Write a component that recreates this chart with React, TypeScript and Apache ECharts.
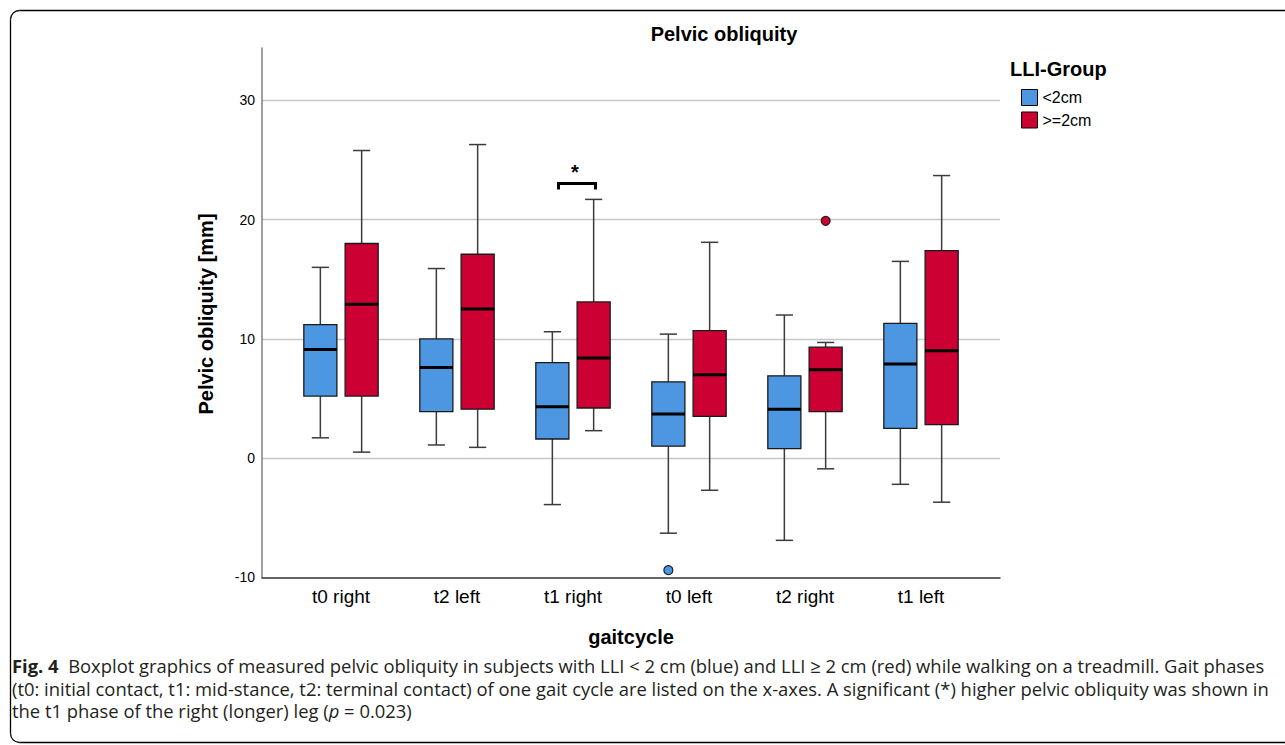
import React, { useEffect, useRef } from "react";
import * as echarts from "echarts";

const categories = ["t0 right", "t2 left", "t1 right", "t0 left", "t2 right", "t1 left"];
// [min, Q1, median, Q3, max]
const lowGroup = [
  [1.7, 5.2, 9.1, 11.2, 16.0],
  [1.1, 3.9, 7.6, 10.0, 15.9],
  [-3.9, 1.6, 4.3, 8.0, 10.6],
  [-6.3, 1.0, 3.7, 6.4, 10.4],
  [-6.9, 0.8, 4.1, 6.9, 12.0],
  [-2.2, 2.5, 7.9, 11.3, 16.5],
];
const highGroup = [
  [0.5, 5.2, 12.9, 18.0, 25.8],
  [0.9, 4.1, 12.5, 17.1, 26.3],
  [2.3, 4.2, 8.4, 13.1, 21.7],
  [-2.7, 3.5, 7.0, 10.7, 18.1],
  [-0.9, 3.9, 7.4, 9.3, 9.7],
  [-3.7, 2.8, 9.0, 17.4, 23.7],
];
// [category index, value]
const lowOutliers = [[3, -9.4]];
const highOutliers = [[4, 19.9]];
const yTicks = [-10, 0, 10, 20, 30];

const BLUE = "#4D97E2";
const RED = "#CC0033";
const FONT = "'Liberation Sans', Arial, sans-serif";
const CAP_FONT = "'Open Sans', 'Noto Sans', sans-serif";
const CAP_SIZE = 18.4;
const CAP_LINE = 22.5;

function boxRenderer(dir: number) {
  return (params: any, api: any) => {
    const cat = api.value(0);
    const band = api.size([1, 0])[0];
    const off = dir * band * 0.178;
    const w = band * 0.285;
    const cx = api.coord([cat, 0])[0] + off;
    const y = (i: number) => api.coord([cat, api.value(i)])[1];
    const yMin = y(1), yQ1 = y(2), yMed = y(3), yQ3 = y(4), yMax = y(5);
    const color = api.visual("color");
    const capW = w * 0.52;
    const wStyle = { stroke: "#3b3b3b", lineWidth: 1.5 };
    return {
      type: "group",
      children: [
        { type: "line", shape: { x1: cx, y1: yMax, x2: cx, y2: yQ3 }, style: wStyle },
        { type: "line", shape: { x1: cx, y1: yQ1, x2: cx, y2: yMin }, style: wStyle },
        { type: "line", shape: { x1: cx - capW / 2, y1: yMax, x2: cx + capW / 2, y2: yMax }, style: wStyle },
        { type: "line", shape: { x1: cx - capW / 2, y1: yMin, x2: cx + capW / 2, y2: yMin }, style: wStyle },
        {
          type: "rect",
          shape: { x: cx - w / 2, y: yQ3, width: w, height: yQ1 - yQ3 },
          style: { fill: color, stroke: "#1a1a1a", lineWidth: 1.3 },
        },
        {
          type: "line",
          shape: { x1: cx - w / 2, y1: yMed, x2: cx + w / 2, y2: yMed },
          style: { stroke: "#000", lineWidth: 3 },
        },
      ],
    };
  };
}

function outlierRenderer(dir: number) {
  return (params: any, api: any) => {
    const cat = api.value(0);
    const band = api.size([1, 0])[0];
    const p = api.coord([cat, api.value(1)]);
    return {
      type: "circle",
      shape: { cx: p[0] + dir * band * 0.178, cy: p[1], r: 4.5 },
      style: { fill: api.visual("color"), stroke: "#222", lineWidth: 1.2 },
    };
  };
}

const captionLines = [
  "{b|Fig. 4}  Boxplot graphics of measured pelvic obliquity in subjects with LLI < 2 cm (blue) and LLI ≥ 2 cm (red) while walking on a treadmill. Gait phases",
  "(t0: initial contact, t1: mid-stance, t2: terminal contact) of one gait cycle are listed on the x-axes. A significant (*) higher pelvic obliquity was shown in",
  "the t1 phase of the right (longer) leg ({i|p} = 0.023)",
];

export default function App() {
  const ref = useRef<HTMLDivElement>(null);
  useEffect(() => {
    if (!ref.current) return;
    const chart = echarts.init(ref.current, null, { renderer: "svg" });
    const yMin = yTicks[0];
    const yMax = 34.4;
    const border = { stroke: "#000", lineWidth: 1.3, fill: "none" };
    chart.setOption({
      animation: false,
      backgroundColor: "#fff",
      textStyle: { fontFamily: FONT },
      grid: [
        { left: 262, top: 48, width: 738, height: 529.3 },
        { left: 283, top: 48, width: 696, height: 529.3 },
      ],
      xAxis: [
        {
          gridIndex: 0,
          type: "value",
          min: 0,
          max: 1,
          axisLine: { show: true, onZero: false, lineStyle: { color: "#333", width: 1.5 } },
          axisTick: { show: false },
          axisLabel: { show: false },
          splitLine: { show: false },
        },
        {
          gridIndex: 1,
          type: "category",
          data: categories,
          axisLine: { show: false },
          axisTick: { show: false },
          axisLabel: { fontSize: 19, color: "#000", margin: 10, fontFamily: FONT },
          splitLine: { show: false },
        },
      ],
      yAxis: [
        {
          gridIndex: 0,
          type: "value",
          min: yMin,
          max: yMax,
          interval: 10,
          axisLine: { show: true, onZero: false, lineStyle: { color: "#808080", width: 1.5 } },
          axisTick: { show: false },
          axisLabel: {
            fontSize: 14,
            color: "#000",
            margin: 7,
            fontFamily: FONT,
            showMaxLabel: false,
            formatter: (v: number) => (yTicks.includes(v) ? String(v) : ""),
          },
          splitLine: {
            show: true,
            showMinLine: false,
            showMaxLine: false,
            lineStyle: { color: "#c8c8c8", width: 1.3 },
          },
        },
        { gridIndex: 1, type: "value", min: yMin, max: yMax, show: false },
      ],
      legend: {
        orient: "vertical",
        left: 1021,
        top: 89,
        padding: 0,
        itemWidth: 16,
        itemHeight: 16,
        itemGap: 5.5,
        itemStyle: { borderColor: "#000", borderWidth: 1 },
        textStyle: { fontSize: 16, color: "#000", fontFamily: FONT },
        data: [
          { name: "<2cm", icon: "rect" },
          { name: ">=2cm", icon: "rect" },
        ],
      },
      series: [
        {
          type: "custom",
          name: "<2cm",
          xAxisIndex: 1,
          yAxisIndex: 1,
          itemStyle: { color: BLUE },
          encode: { x: 0, y: [1, 2, 3, 4, 5] },
          data: lowGroup.map((d, i) => [i, ...d]),
          renderItem: boxRenderer(-1),
        },
        {
          type: "custom",
          name: ">=2cm",
          xAxisIndex: 1,
          yAxisIndex: 1,
          itemStyle: { color: RED },
          encode: { x: 0, y: [1, 2, 3, 4, 5] },
          data: highGroup.map((d, i) => [i, ...d]),
          renderItem: boxRenderer(1),
        },
        {
          type: "custom",
          name: "<2cm",
          xAxisIndex: 1,
          yAxisIndex: 1,
          itemStyle: { color: BLUE },
          encode: { x: 0, y: 1 },
          data: lowOutliers,
          renderItem: outlierRenderer(-1),
        },
        {
          type: "custom",
          name: ">=2cm",
          xAxisIndex: 1,
          yAxisIndex: 1,
          itemStyle: { color: RED },
          encode: { x: 0, y: 1 },
          data: highOutliers,
          renderItem: outlierRenderer(1),
        },
      ],
      graphic: [
        { type: "line", shape: { x1: 19.5, y1: 10.5, x2: 1300, y2: 10.5 }, style: border, silent: true },
        { type: "line", shape: { x1: 10.5, y1: 19.5, x2: 10.5, y2: 733.5 }, style: border, silent: true },
        { type: "line", shape: { x1: 19.5, y1: 742.5, x2: 1300, y2: 742.5 }, style: border, silent: true },
        {
          type: "arc",
          shape: { cx: 19.5, cy: 19.5, r: 9, startAngle: Math.PI, endAngle: Math.PI * 1.5, clockwise: true },
          style: border,
          silent: true,
        },
        {
          type: "arc",
          shape: { cx: 19.5, cy: 733.5, r: 9, startAngle: Math.PI / 2, endAngle: Math.PI, clockwise: true },
          style: border,
          silent: true,
        },
        {
          type: "text",
          x: 724,
          y: 34,
          style: {
            text: "Pelvic obliquity",
            font: `bold 20px ${FONT}`,
            fill: "#000",
            textAlign: "center",
            textVerticalAlign: "middle",
          },
        },
        {
          type: "text",
          x: 1010,
          y: 69,
          style: {
            text: "LLI-Group",
            font: `bold 20px ${FONT}`,
            fill: "#000",
            textAlign: "left",
            textVerticalAlign: "middle",
          },
        },
        {
          type: "text",
          x: 206,
          y: 314,
          rotation: Math.PI / 2,
          style: {
            text: "Pelvic obliquity [mm]",
            font: `bold 20px ${FONT}`,
            fill: "#000",
            textAlign: "center",
            textVerticalAlign: "middle",
          },
        },
        {
          type: "text",
          x: 631,
          y: 637,
          style: {
            text: "gaitcycle",
            font: `bold 20px ${FONT}`,
            fill: "#000",
            textAlign: "center",
            textVerticalAlign: "middle",
          },
        },
        {
          type: "polyline",
          shape: { points: [[558.5, 189.5], [558.5, 183.5], [595.5, 183.5], [595.5, 189.5]] },
          style: { stroke: "#000", lineWidth: 3, fill: "none" },
        },
        {
          type: "text",
          x: 575,
          y: 172,
          style: {
            text: "*",
            font: `bold 20px ${FONT}`,
            fill: "#000",
            textAlign: "center",
            textVerticalAlign: "middle",
          },
        },
        {
          type: "text",
          x: 12,
          y: 654.5,
          style: {
            text: captionLines.join("\n"),
            font: `${CAP_SIZE}px ${CAP_FONT}`,
            lineHeight: CAP_LINE,
            fill: "#231f20",
            textVerticalAlign: "top",
            rich: {
              b: { font: `bold ${CAP_SIZE}px ${CAP_FONT}`, fill: "#231f20", lineHeight: CAP_LINE },
              i: { font: `italic ${CAP_SIZE}px ${CAP_FONT}`, fill: "#231f20", lineHeight: CAP_LINE },
            },
          },
        },
      ],
    });
    return () => chart.dispose();
  }, []);
  return (
    <div
      ref={ref}
      style={{ position: "fixed", left: 0, top: 0, width: 1285, height: 745 }}
    />
  );
}
